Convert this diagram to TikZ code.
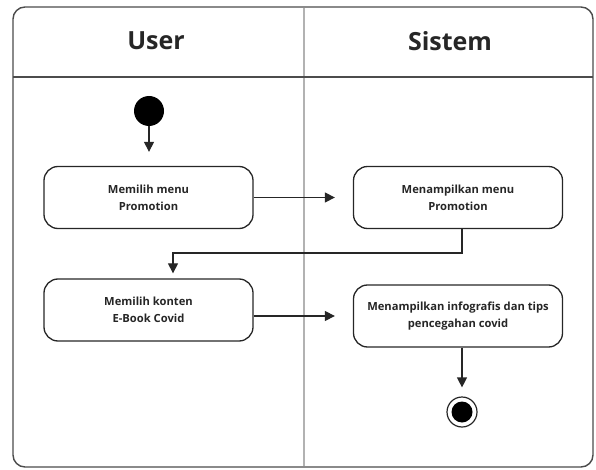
\documentclass[tikz,border=0pt]{standalone}
\usepackage{fontspec}
\setmainfont{Open Sans}
\usetikzlibrary{arrows.meta}
\begin{document}
\begin{tikzpicture}[x=1pt,y=-1pt,
  frame/.style={draw=black!70, line width=1.4pt},
  divider/.style={draw=black!30, line width=1.6pt},
  header/.style={font=\fontsize{25}{30}\selectfont\bfseries, text=black!85},
  act/.style={draw=black!85, line width=1.3pt, rounded corners=14pt,
    minimum width=209pt, minimum height=62pt, align=center,
    font=\fontsize{11.2}{17}\selectfont\bfseries, inner sep=0pt, text=black!85},
  flow/.style={draw=black!85, line width=1.2pt, -{Triangle[length=10pt,width=10pt]}}]
\path[use as bounding box] (0,0) rectangle (596,470);
% frame and lanes
\draw[divider] (304,8) -- (304,466);
\draw[frame, rounded corners=12pt] (13,7) rectangle (593,467);
\draw[frame] (13,77) -- (593,77);
\node[header] (huser) at (156,41) {User};
\node[header] (hsis) at (450,41) {Sistem};
% nodes
\node[circle, fill=black, minimum size=30pt, inner sep=0pt] (start) at (149,111) {};
\node[act] (b1) at (148.5,197.5) {Memilih menu\\Promotion};
\node[act] (b2) at (458,197.5) {Menampilkan menu\\Promotion};
\node[act] (b3) at (148.5,310) {Memilih konten\\E-Book Covid};
\node[act] (b4) at (458,316) {Menampilkan infografis dan tips\\pencegahan covid};
\node[circle, draw=black!85, line width=1.2pt, minimum size=30pt, inner sep=0pt] (end) at (462,412) {};
\node[circle, fill=black, minimum size=21pt, inner sep=0pt] (endin) at (end) {};
\coordinate (c1) at (462,253);
\coordinate (c2) at (173,253);
% connectors
\draw[flow, shorten >=14pt] (start) -- (start |- b1.north);
\draw[flow, shorten >=18pt] (b1.east) -- (b2.west);
\draw[flow, shorten >=5pt] (b2.south -| c1) -- (c1) -- (c2) -- (c2 |- b3.north);
\draw[flow, shorten >=18pt] (b3.east |- b4.west) -- (b4.west);
\draw[flow, shorten >=9pt] (b4.south -| end) -- (end);
\end{tikzpicture}
\end{document}
